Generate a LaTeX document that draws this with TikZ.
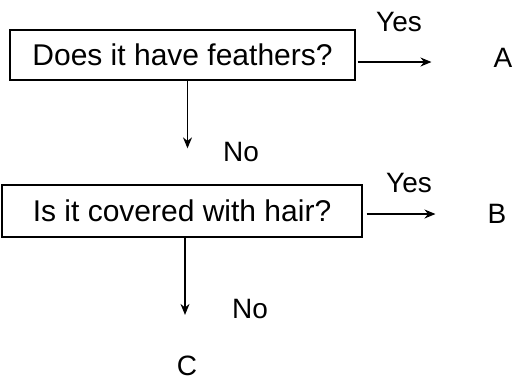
\documentclass[tikz,border=0pt]{standalone}
\usepackage{fontspec}
\setmainfont{Liberation Sans}
\usetikzlibrary{arrows.meta,positioning}

\begin{document}
\begin{tikzpicture}[x=1pt,y=-1pt,>={Stealth[length=11pt,width=9pt]}]
  \tikzstyle{question}=[draw=black,line width=1.3pt,minimum height=50pt,inner sep=0pt,font=\fontsize{30}{36}\selectfont]
  \tikzstyle{answer}=[inner sep=0pt,font=\fontsize{28}{34}\selectfont]
  \tikzstyle{link}=[->,line width=1.2pt]
  \useasboundingbox (0,0) rectangle (518,383);
  \node[question,minimum width=345pt] (q1) at (182.5,55) {Does it have feathers?};
  \node[question,minimum width=360pt,minimum height=52pt] (q2) at (182,211) {Is it covered with hair?};
  \node[answer] (yes1) at (399,22) {Yes};
  \node[answer] (yes2) at (409,183) {Yes};
  \node[answer] (no1) at (241,152) {No};
  \node[answer] (no2) at (250,309) {No};
  \node[answer] (A) at (503,58) {A};
  \node[answer] (B) at (497,214) {B};
  \node[answer] (C) at (187,366) {C};
  \draw[link,shorten <=2pt,shorten >=62pt] ([yshift=-7pt]q1.east) -- ([yshift=-7pt]q1.east -| A.west);
  \draw[link,shorten <=4pt,shorten >=52pt] ([yshift=-3pt]q2.east) -- ([yshift=-3pt]q2.east -| B.west);
  \draw[link,shorten >=36pt] ([xshift=5pt]q1.south) -- ([xshift=5pt]q1.south |- q2.north);
  \draw[link,shorten >=41pt] ([xshift=3pt]q2.south) -- ([xshift=3pt]q2.south |- C.north);
\end{tikzpicture}
\end{document}
